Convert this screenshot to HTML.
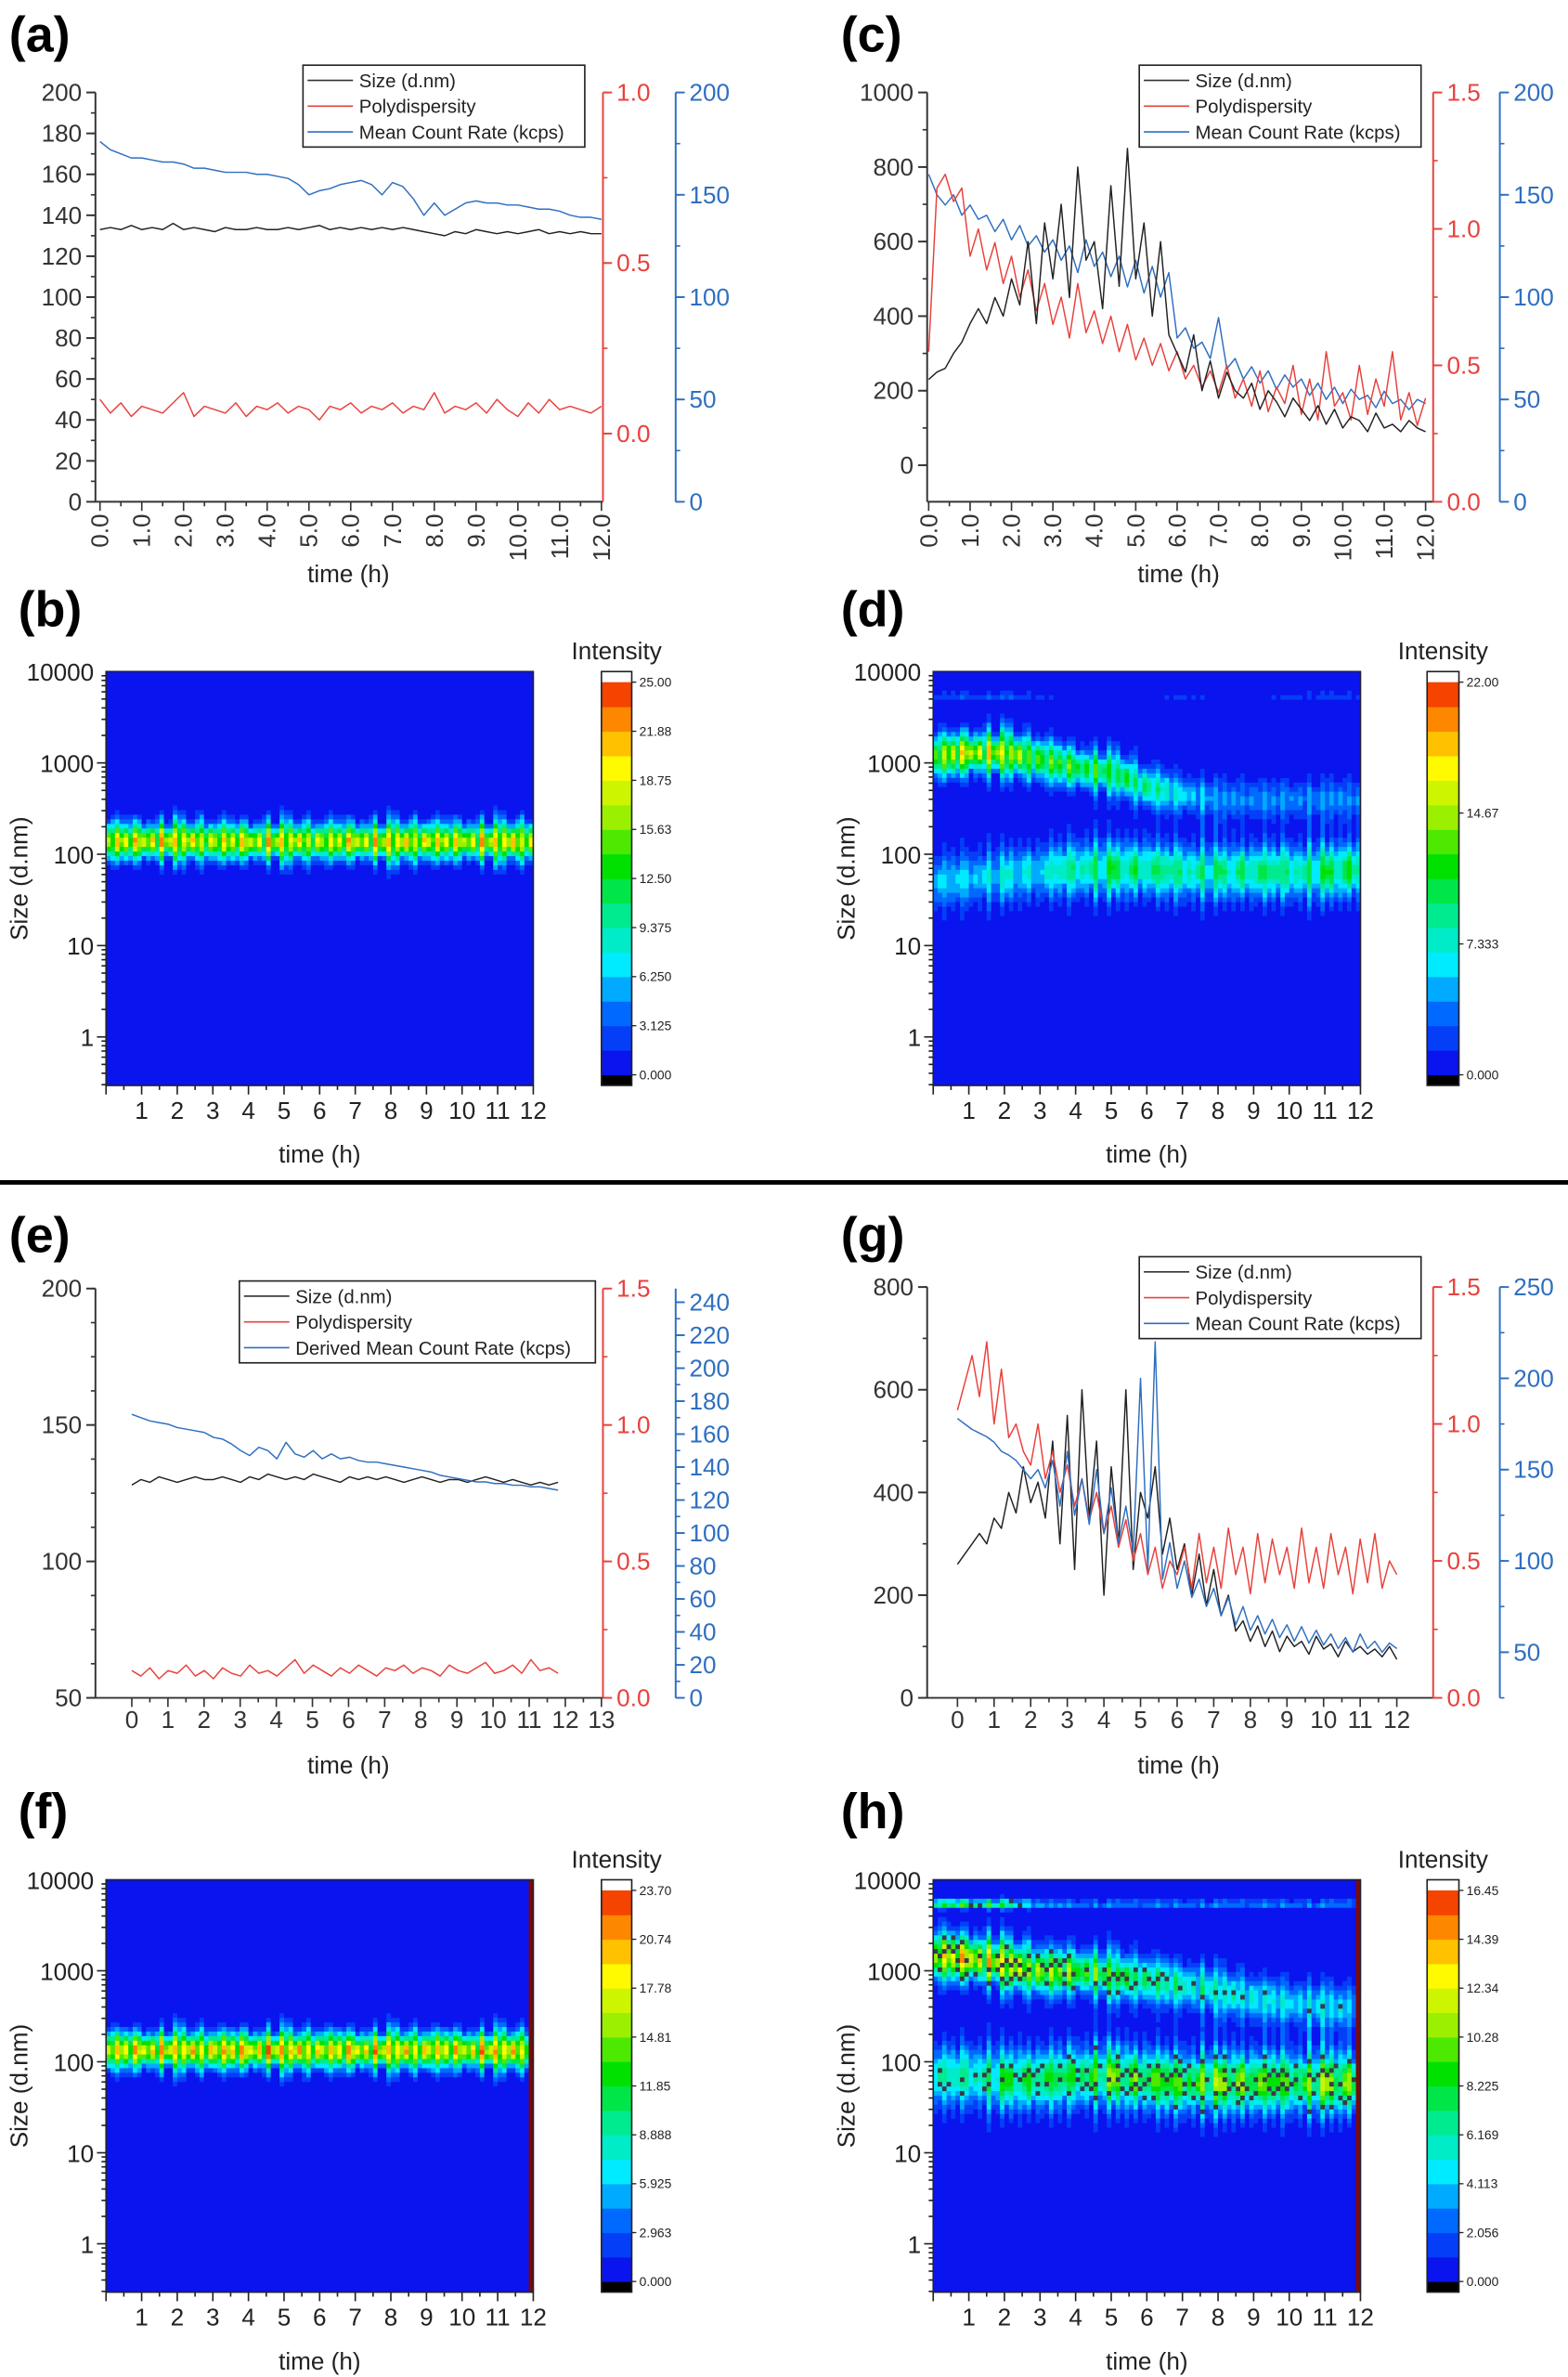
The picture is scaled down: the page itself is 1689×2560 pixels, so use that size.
<!DOCTYPE html>
<html><head><meta charset="utf-8">
<style>
html,body{margin:0;padding:0;background:#fff;}
svg{display:block;font-family:"Liberation Sans",Arial,sans-serif;}
</style></head>
<body>
<svg id="fig" width="1689" height="2560" viewBox="0 0 1035 1568" preserveAspectRatio="none" xmlns="http://www.w3.org/2000/svg">
<rect x="0" y="0" width="1035" height="1568" fill="#fff"/>
<text x="6" y="34" font-size="33" font-weight="bold">(a)</text>
<text x="555" y="34" font-size="33" font-weight="bold">(c)</text>
<text x="12" y="413" font-size="33" font-weight="bold">(b)</text>
<text x="555" y="413" font-size="33" font-weight="bold">(d)</text>
<text x="6" y="826" font-size="33" font-weight="bold">(e)</text>
<text x="555" y="826" font-size="33" font-weight="bold">(g)</text>
<text x="12" y="1206" font-size="33" font-weight="bold">(f)</text>
<text x="555" y="1206" font-size="33" font-weight="bold">(h)</text>
<line x1="0" y1="780" x2="1035" y2="780" stroke="#000" stroke-width="3"/>
</svg>
<script>
// ===== DATA: panel (a) =====
const aSize=[133,134,133,135,133,134,133,136,133,134,133,132,134,133,133,134,133,133,134,133,134,135,133,134,133,134,133,134,133,134,133,132,131,130,132,131,133,132,131,132,131,132,133,131,132,131,132,131,131];
const aPdi=[0.1,0.06,0.09,0.05,0.08,0.07,0.06,0.09,0.12,0.05,0.08,0.07,0.06,0.09,0.05,0.08,0.07,0.09,0.06,0.08,0.07,0.04,0.08,0.07,0.09,0.06,0.08,0.07,0.09,0.06,0.08,0.07,0.12,0.06,0.08,0.07,0.09,0.06,0.1,0.07,0.05,0.09,0.06,0.1,0.07,0.08,0.07,0.06,0.08];
const aRate=[176,172,170,168,168,167,166,166,165,163,163,162,161,161,161,160,160,159,158,155,150,152,153,155,156,157,155,150,156,154,148,140,146,140,143,146,147,146,146,145,145,144,143,143,142,140,139,139,138];
// ===== DATA: panel (c) =====
const cSize=[230,250,260,300,330,380,420,380,450,400,500,430,600,380,650,500,700,450,800,550,600,420,750,480,850,500,650,400,600,350,300,250,350,200,280,180,250,200,180,220,150,200,170,130,180,150,120,160,110,150,100,130,120,90,140,100,110,90,120,100,90];
const cPdi=[0.55,1.15,1.2,1.1,1.15,0.9,1.0,0.85,0.95,0.8,0.9,0.75,0.85,0.7,0.8,0.65,0.75,0.6,0.8,0.62,0.7,0.58,0.68,0.55,0.65,0.52,0.6,0.5,0.58,0.48,0.55,0.45,0.5,0.42,0.48,0.4,0.5,0.38,0.45,0.35,0.48,0.33,0.42,0.36,0.5,0.32,0.45,0.3,0.55,0.35,0.4,0.3,0.5,0.32,0.45,0.35,0.55,0.3,0.4,0.28,0.38];
const cRate=[160,150,145,150,140,145,138,140,132,138,128,135,125,130,122,128,118,125,112,128,115,122,110,120,105,118,102,115,100,112,80,85,75,78,70,90,65,70,60,66,58,64,55,62,56,60,52,58,50,56,48,55,50,52,46,54,48,50,45,50,48];
// ===== DATA: panel (e) =====
const eSize=[128,130,129,131,130,129,130,131,130,130,131,130,129,131,130,132,131,130,131,130,132,131,130,129,131,130,131,130,131,130,129,130,131,130,129,130,130,129,130,131,130,129,130,129,128,129,128,129];
const ePdi=[0.1,0.08,0.11,0.07,0.1,0.09,0.12,0.08,0.1,0.07,0.11,0.09,0.08,0.12,0.09,0.1,0.08,0.11,0.14,0.09,0.12,0.1,0.08,0.11,0.09,0.12,0.1,0.08,0.11,0.1,0.12,0.09,0.11,0.1,0.08,0.12,0.1,0.09,0.11,0.13,0.09,0.1,0.12,0.09,0.14,0.1,0.11,0.09];
const eRate=[172,170,168,167,166,164,163,162,161,158,157,154,150,147,152,150,145,155,148,146,150,145,148,145,146,144,143,143,142,141,140,139,138,137,135,134,133,132,131,131,130,130,129,129,128,128,127,126];
// ===== DATA: panel (g) =====
const gSize=[260,280,300,320,300,350,330,400,360,450,380,420,350,500,300,550,250,600,350,500,200,450,300,600,250,400,350,450,280,350,250,300,200,280,180,250,160,200,130,150,110,140,100,130,90,120,100,110,85,120,95,105,80,110,90,100,85,95,80,100,75];
const gPdi=[1.05,1.15,1.25,1.1,1.3,1.0,1.2,0.95,1.0,0.9,0.85,1.0,0.8,0.9,0.75,0.85,0.7,0.8,0.65,0.75,0.6,0.7,0.55,0.65,0.5,0.6,0.45,0.55,0.4,0.5,0.45,0.55,0.4,0.6,0.42,0.55,0.4,0.62,0.45,0.55,0.38,0.6,0.42,0.58,0.45,0.55,0.4,0.62,0.42,0.55,0.4,0.6,0.45,0.55,0.38,0.58,0.42,0.6,0.4,0.5,0.45];
const gRate=[178,175,172,170,168,165,160,158,155,150,145,150,140,155,130,160,125,145,120,150,115,140,110,130,105,200,95,220,90,110,85,100,80,90,75,85,70,80,65,75,62,70,60,68,58,65,56,64,55,62,54,60,52,58,50,60,52,56,50,55,52];
// ===== DATA: heatmaps (hourly values 0..12) =====
const bCenter=[140,140,142,140,138,140,140,140,138,140,140,140,140];
const bPeak=[17.5,18,17.5,17,17.5,17.5,16.5,18,17.5,18,17.5,17.5,17.5];
const fCenter=[135,135,136,135,135,135,135,134,135,135,135,135,135];
const fPeak=[17,17.5,17,17.5,18,18,17,17.5,17,17.5,17,17.5,17];
const dUpCenter=[1200,1300,1300,1100,900,800,550,450,400,400,400,400,400];
const dUpPeak=[13,15,14,12,11,10,9,6,4,4,4,4,4];
const dLoCenter=[50,55,60,65,70,70,70,65,65,65,65,65,70];
const dLoPeak=[5,6,6,6,9,9,9,9,8,9,9,9,10];
const dTopPeak=[2,3,3,2,1,1,1,2,1,1,2,2,2];
const hUpCenter=[1500,1400,1200,1000,1000,900,800,700,600,500,450,400,400];
const hUpPeak=[11,12,11,10,9,8,7,6,5.5,5,4.5,4.5,4];
const hLoCenter=[70,70,65,65,70,70,65,60,60,60,60,60,60];
const hLoPeak=[5.5,6.5,7,7.5,8,8.5,8.5,9,9,9,9,9,9];
const hTopPeak=[8,9,8,4,3,3,3,3,3,3,3,3,3];
const ripple=[1,0.8,1.2,0.9,1.1,0.75,1.25,0.95,1.05,0.85,1.15,0.7,1.3,0.9,1.0,1.2,0.8,1.1,0.95,1.25,0.85,1.05,0.75,1.15];
const colorbarB=["25.00","21.88","18.75","15.63","12.50","9.375","6.250","3.125","0.000"];
const colorbarD=["22.00","14.67","7.333","0.000"];
const colorbarF=["23.70","20.74","17.78","14.81","11.85","8.888","5.925","2.963","0.000"];
const colorbarH=["16.45","14.39","12.34","10.28","8.225","6.169","4.113","2.056","0.000"];

const NS='http://www.w3.org/2000/svg';
const svg=document.getElementById('fig');
function el(tag,attrs,parent){const e=document.createElementNS(NS,tag);for(const k in attrs)e.setAttribute(k,attrs[k]);(parent||svg).appendChild(e);return e;}
function txt(s,attrs,parent,name){const e=el('text',attrs,parent);e.textContent=s;


return e;}
function grp(name){const g=el('g',{});


return g;}

const GRAY='#333',RED='#e8413c',BLUE='#2f6fc0';
function fmt(v,d){return v.toFixed(d);}

function vAxis(g,ax){
  const ys=v=>ax.bottom-(v-ax.min)/(ax.max-ax.min)*(ax.bottom-ax.top);
  const ln=el('line',{x1:ax.x,y1:ax.top,x2:ax.x,y2:ax.bottom,stroke:ax.color,'stroke-width':1.2},g);
  
  
  const dir=ax.side==='left'?-1:1;
  for(let v=ax.minorStart;v<=ax.max+1e-9;v+=ax.minor){el('line',{x1:ax.x,y1:ys(v),x2:ax.x+dir*3,y2:ys(v),stroke:ax.color,'stroke-width':1},g);}
  for(const v of ax.ticks){
    el('line',{x1:ax.x,y1:ys(v),x2:ax.x+dir*6,y2:ys(v),stroke:ax.color,'stroke-width':1.2},g);
    txt(fmt(v,ax.dec),{x:ax.x+dir*9,y:ys(v)+5.5,'font-size':16,fill:ax.color,'text-anchor':ax.side==='left'?'end':'start'},g,ax.name+'-tick-label');
  }
  return ys;
}

function linePanel(p){
  const g=grp(p.name);
  const xs=t=>p.x0+(t-p.tmin)/(p.tmax-p.tmin)*(p.x1-p.x0);
  const bl=el('line',{x1:p.left,y1:p.bottom,x2:p.right,y2:p.bottom,stroke:GRAY,'stroke-width':1.2},g);
  
  
  for(let t=p.tmin;t<=p.tickMax+1e-9;t+=0.5){const major=Math.abs(t-Math.round(t))<1e-9;
    el('line',{x1:xs(t),y1:p.bottom,x2:xs(t),y2:p.bottom+(major?6:3),stroke:GRAY,'stroke-width':1},g);
    if(major){
      if(p.rot){const x=xs(t)+5.5,y=p.bottom+8;
        txt(t.toFixed(1),{x:x,y:y,'font-size':16,fill:GRAY,'text-anchor':'end',transform:'rotate(-90 '+x+' '+y+')'},g,'x-tick-label');}
      else txt(String(t),{x:xs(t),y:p.bottom+20,'font-size':16,fill:GRAY,'text-anchor':'middle'},g,'x-tick-label');
    }}
  txt('time (h)',{x:p.titleX,y:p.titleY,'font-size':16,fill:'#222','text-anchor':'middle'},g,'x-axis-title');
  const axes=p.axes.map(a=>vAxis(g,a));
  p.series.forEach((s,k)=>{
    const ys=axes[s.axis];const n=s.vals.length;
    const pts=s.vals.map((v,i)=>{const t=s.t0+i*(s.t1-s.t0)/(n-1);return xs(t).toFixed(2)+','+ys(v).toFixed(2);}).join(' ');
    const pl=el('polyline',{points:pts,fill:'none',stroke:s.color,'stroke-width':0.9,'stroke-linejoin':'round'},g);
    
    
  });
  const L=p.legend;
  const lg=grp('legend');g.appendChild(lg);
  el('rect',{x:L.x,y:L.y,width:L.w,height:54,fill:'#fff',stroke:'#222','stroke-width':1},lg);
  L.items.forEach((it,i)=>{
    const y=L.y+10+i*17;
    const e=el('line',{x1:L.x+3,y1:y,x2:L.x+33,y2:y,stroke:it[1],'stroke-width':1},lg);
    
    
    txt(it[0],{x:L.x+37,y:y+4.5,'font-size':12.5,fill:'#222'},lg,'legend-entry');
  });
}

const leg=(x,y,w,third)=>({x:x,y:y,w:w,items:[['Size (d.nm)','#333'],['Polydispersity',RED],[third,BLUE]]});

linePanel({name:'panel-a',left:63,right:398,bottom:331,x0:66,x1:397,tmin:0,tmax:12,tickMax:12,rot:true,titleX:230,titleY:384,
 axes:[{name:'left-axis',x:63,top:61,bottom:331,min:0,max:200,ticks:[0,20,40,60,80,100,120,140,160,180,200],minor:10,minorStart:0,dec:0,color:GRAY,side:'left'},
       {name:'pdi-axis',x:398,top:61,bottom:331,min:-0.2,max:1.0,ticks:[0,0.5,1.0],minor:0.25,minorStart:0,dec:1,color:RED,side:'right'},
       {name:'rate-axis',x:446,top:61,bottom:331,min:0,max:200,ticks:[0,50,100,150,200],minor:25,minorStart:0,dec:0,color:BLUE,side:'right'}],
 series:[{name:'size-line',vals:aSize,axis:0,t0:0,t1:12,color:'#222'},{name:'pdi-line',vals:aPdi,axis:1,t0:0,t1:12,color:RED},{name:'rate-line',vals:aRate,axis:2,t0:0,t1:12,color:BLUE}],
 legend:leg(200,43,186,'Mean Count Rate (kcps)')});

linePanel({name:'panel-c',left:612,right:946,bottom:331,x0:613,x1:941,tmin:0,tmax:12,tickMax:12,rot:true,titleX:778,titleY:384,
 axes:[{name:'left-axis',x:612,top:61,bottom:331,min:-98,max:1000,ticks:[0,200,400,600,800,1000],minor:100,minorStart:0,dec:0,color:GRAY,side:'left'},
       {name:'pdi-axis',x:946,top:61,bottom:331,min:0,max:1.5,ticks:[0,0.5,1.0,1.5],minor:0.25,minorStart:0,dec:1,color:RED,side:'right'},
       {name:'rate-axis',x:990,top:61,bottom:331,min:0,max:200,ticks:[0,50,100,150,200],minor:25,minorStart:0,dec:0,color:BLUE,side:'right'}],
 series:[{name:'rate-line',vals:cRate,axis:2,t0:0,t1:12,color:BLUE},{name:'pdi-line',vals:cPdi,axis:1,t0:0,t1:12,color:RED},{name:'size-line',vals:cSize,axis:0,t0:0,t1:12,color:'#222'}],
 legend:leg(752,43,186,'Mean Count Rate (kcps)')});

linePanel({name:'panel-e',left:63,right:398,bottom:1120,x0:87,x1:397,tmin:0,tmax:13,tickMax:13,rot:false,titleX:230,titleY:1170,
 axes:[{name:'left-axis',x:63,top:850,bottom:1120,min:50,max:200,ticks:[50,100,150,200],minor:12.5,minorStart:50,dec:0,color:GRAY,side:'left'},
       {name:'pdi-axis',x:398,top:850,bottom:1120,min:0,max:1.5,ticks:[0,0.5,1.0,1.5],minor:0.25,minorStart:0,dec:1,color:RED,side:'right'},
       {name:'rate-axis',x:446,top:850,bottom:1120,min:0,max:248.3,ticks:[0,20,40,60,80,100,120,140,160,180,200,220,240],minor:10,minorStart:0,dec:0,color:BLUE,side:'right'}],
 series:[{name:'size-line',vals:eSize,axis:0,t0:0,t1:11.8,color:'#222'},{name:'pdi-line',vals:ePdi,axis:1,t0:0,t1:11.8,color:RED},{name:'rate-line',vals:eRate,axis:2,t0:0,t1:11.8,color:BLUE}],
 legend:leg(158,845,235,'Derived Mean Count Rate (kcps)')});

linePanel({name:'panel-g',left:612,right:946,bottom:1120,x0:632,x1:922,tmin:0,tmax:12,tickMax:12,rot:false,titleX:778,titleY:1170,
 axes:[{name:'left-axis',x:612,top:849,bottom:1120,min:0,max:800,ticks:[0,200,400,600,800],minor:100,minorStart:0,dec:0,color:GRAY,side:'left'},
       {name:'pdi-axis',x:946,top:849,bottom:1120,min:0,max:1.5,ticks:[0,0.5,1.0,1.5],minor:0.25,minorStart:0,dec:1,color:RED,side:'right'},
       {name:'rate-axis',x:990,top:849,bottom:1120,min:25,max:250,ticks:[50,100,150,200,250],minor:25,minorStart:25,dec:0,color:BLUE,side:'right'}],
 series:[{name:'size-line',vals:gSize,axis:0,t0:0,t1:12,color:'#222'},{name:'pdi-line',vals:gPdi,axis:1,t0:0,t1:12,color:RED},{name:'rate-line',vals:gRate,axis:2,t0:0,t1:12,color:BLUE}],
 legend:leg(752,829,186,'Mean Count Rate (kcps)')});

// ===== heatmaps =====
const stops=[[0,[10,20,238]],[0.12,[0,100,255]],[0.25,[0,235,255]],[0.37,[0,235,150]],[0.5,[0,225,0]],[0.62,[150,240,0]],[0.75,[255,250,0]],[0.87,[255,140,0]],[1,[235,0,0]]];
function jet(v){v=Math.max(0,Math.min(1,v));for(let i=1;i<stops.length;i++){if(v<=stops[i][0]){const a=stops[i-1],b=stops[i];const f=(v-a[0])/(b[0]-a[0]);
  const c=a[1].map((x,k)=>Math.round(x+(b[1][k]-x)*f));return 'rgb('+c.join(',')+')';}}return 'rgb(235,0,0)';}
function interp(arr,t){const u=t/12*(arr.length-1);const i=Math.min(arr.length-2,Math.floor(u));const f=u-i;return arr[i]*(1-f)+arr[i+1]*f;}

function heatPanel(p){
  const g=grp(p.name);
  const logMin=-0.531,logMax=4;
  const xs=t=>p.left+t/12*(p.right-p.left);
  const ys=L=>p.bottom-(L-logMin)/(logMax-logMin)*(p.bottom-p.top);
  const nt=96,nl=90;const levels=16;
  const cells=grp('heatmap-cells');g.appendChild(cells);
  for(let i=0;i<nt;i++){
    const t=(i+0.5)/nt*12;const r=ripple[i%ripple.length];const r2=ripple[(i*7+3)%ripple.length];
    let runStart=0;
    const cols=[];
    for(let j=0;j<nl;j++){
      const L=logMin+(j+0.5)/nl*(logMax-logMin);
      let I=0;
      p.comps.forEach((c,k)=>{const ctr=Math.log10(interp(c.center,t));const pk=interp(c.peak,t)*(k%2?r2:r);const w=c.width*(k%2?r:r2);
        I+=pk*Math.exp(-0.5*Math.pow((L-ctr)/w,2));});
      let q=Math.floor(I/p.vmax*levels)/levels;
      let col=jet(q);
      if(p.dark&&q>0.3&&((i*5+j*7+((i*j)%3))%11<2))col='#3a3a4a';
      cols.push(col);
    }
    for(let j=0;j<=nl;j++){
      if(j===nl||cols[j]!==cols[runStart]){
        const y1=ys(logMin+runStart/nl*(logMax-logMin)),y2=ys(logMin+j/nl*(logMax-logMin));
        const rc=el('rect',{x:xs(i/nt*12).toFixed(2),y:y2.toFixed(2),width:((p.right-p.left)/nt+0.4).toFixed(2),height:(y1-y2+0.4).toFixed(2),fill:cols[runStart]},cells);
        
        
        runStart=j;
      }
    }
  }
  if(p.redEdge)el('rect',{x:p.right-3,y:p.top,width:3,height:p.bottom-p.top,fill:'#7a0a0a'},g);
  const fr=el('rect',{x:p.left,y:p.top,width:p.right-p.left,height:p.bottom-p.top,fill:'none',stroke:'#223',"stroke-width":1},g);
  
  
  const ylab=['1','10','100','1000','10000'];
  for(let d=-1;d<4;d++)for(let m=1;m<10;m++){const L=d+Math.log10(m);if(L<logMin||L>logMax)continue;
    el('line',{x1:p.left,y1:ys(L),x2:p.left-(m===1?6:3),y2:ys(L),stroke:'#222','stroke-width':1},g);}
  ylab.forEach((s,k)=>txt(s,{x:p.left-8,y:ys(k)+6,'font-size':16,fill:'#222','text-anchor':'end'},g,'y-tick-label'));
  const yt=p.left-52,ym=(p.top+p.bottom)/2;
  txt('Size (d.nm)',{x:yt,y:ym,'font-size':16,fill:'#222','text-anchor':'middle',transform:'rotate(-90 '+yt+' '+ym+')'},g,'y-axis-title');
  for(let t=0;t<=12;t+=0.5){const major=t%1===0;
    el('line',{x1:xs(t),y1:p.bottom,x2:xs(t),y2:p.bottom+(major?6:3),stroke:'#222','stroke-width':1},g);
    if(major&&t>0)txt(String(t),{x:xs(t),y:p.bottom+22,'font-size':16,fill:'#222','text-anchor':'middle'},g,'x-tick-label');}
  txt('time (h)',{x:(p.left+p.right)/2,y:p.bottom+51,'font-size':16,fill:'#222','text-anchor':'middle'},g,'x-axis-title');
  const cb=grp('colorbar');g.appendChild(cb);
  const cx=p.cbx,cw=p.cbw,ctop=p.top+7,cbot=p.bottom-7;
  el('rect',{x:cx,y:p.top,width:cw,height:7,fill:'#fff'},cb);
  el('rect',{x:cx,y:cbot,width:cw,height:7,fill:'#000'},cb);
  const nb=levels;
  for(let k=0;k<nb;k++){const y=cbot-(k+1)/nb*(cbot-ctop);
    el('rect',{x:cx,y:y,width:cw,height:(cbot-ctop)/nb+0.3,fill:jet(k/nb)},cb);}
  el('rect',{x:cx,y:p.top,width:cw,height:p.bottom-p.top,fill:'none',stroke:'#222','stroke-width':1},cb);
  p.cbLabels.forEach((s,k)=>{const y=ctop+k/(p.cbLabels.length-1)*(cbot-ctop);
    el('line',{x1:cx+cw,y1:y,x2:cx+cw+3,y2:y,stroke:'#222','stroke-width':0.8},cb);
    txt(s,{x:cx+cw+5,y:y+3,'font-size':8.5,fill:'#222'},cb,'colorbar-label');});
  txt('Intensity',{x:cx+cw/2,y:p.top-8,'font-size':16,fill:'#222','text-anchor':'middle'},cb,'colorbar-title');
}

heatPanel({name:'panel-b',left:70,right:352,top:443,bottom:716,cbx:397,cbw:20,vmax:25,cbLabels:colorbarB,
 comps:[{center:bCenter,peak:bPeak,width:0.13}]});
heatPanel({name:'panel-d',left:616,right:898,top:443,bottom:716,cbx:942,cbw:21,vmax:22,cbLabels:colorbarD,
 comps:[{center:dUpCenter,peak:dUpPeak,width:0.15},{center:dLoCenter,peak:dLoPeak,width:0.2},{center:[5500,5500,5500,5500,5500,5500,5500,5500,5500,5500,5500,5500,5500],peak:dTopPeak,width:0.03}]});
heatPanel({name:'panel-f',left:70,right:352,top:1240,bottom:1512,cbx:397,cbw:20,vmax:23.7,cbLabels:colorbarF,redEdge:true,
 comps:[{center:fCenter,peak:fPeak,width:0.13}]});
heatPanel({name:'panel-h',left:616,right:898,top:1240,bottom:1512,cbx:942,cbw:21,vmax:16.45,cbLabels:colorbarH,redEdge:true,dark:true,
 comps:[{center:hUpCenter,peak:hUpPeak,width:0.17},{center:hLoCenter,peak:hLoPeak,width:0.22},{center:[5500,5500,5500,5500,5500,5500,5500,5500,5500,5500,5500,5500,5500],peak:hTopPeak,width:0.03}]});
</script>
</body></html>
